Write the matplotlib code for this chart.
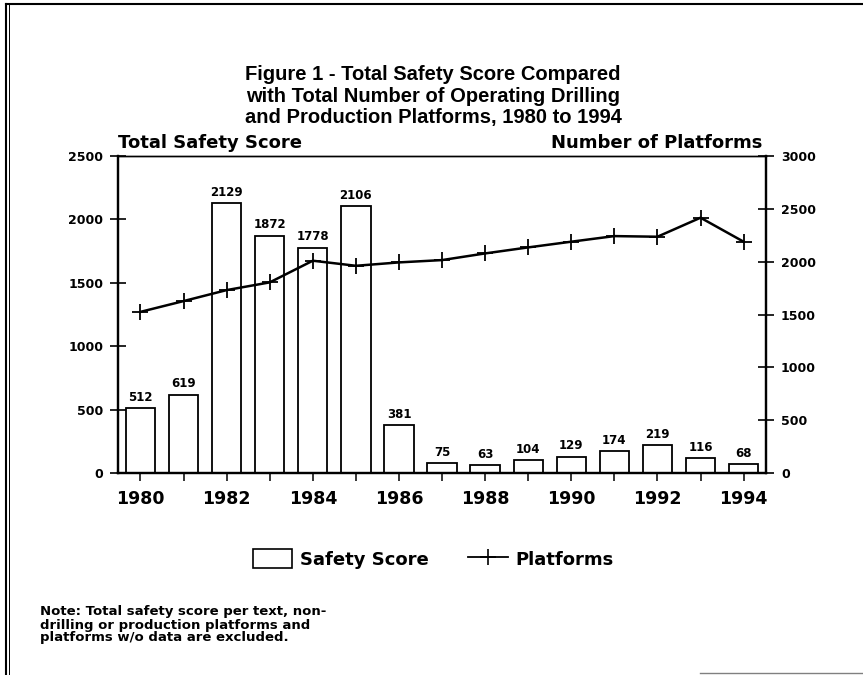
import numpy as np
import matplotlib
matplotlib.use("Agg")
from matplotlib import pyplot as plt
from matplotlib.lines import Line2D
from matplotlib.patches import Rectangle

years = list(range(1980, 1995))
safety_score = [512, 619, 2129, 1872, 1778, 2106, 381, 75, 63, 104, 129, 174, 219, 116, 68]
platforms = [1525, 1627, 1731, 1804, 2009, 1961, 1993, 2015, 2078, 2135, 2189, 2242, 2236, 2416, 2189]

title = ["Figure 1 - Total Safety Score Compared",
         "with Total Number of Operating Drilling",
         "and Production Platforms, 1980 to 1994"]
note = ["Note: Total safety score per text, non-",
        "drilling or production platforms and",
        "platforms w/o data are excluded."]

W, H = 863, 675
fig = plt.figure(figsize=(W / 100, H / 100), dpi=100)
ax = fig.add_axes([118 / W, 1 - 473 / H, (766 - 118) / W, (473 - 156) / H])
ax2 = ax.twinx()

ax.bar(years, safety_score, width=0.68, facecolor="white", edgecolor="black", linewidth=1.3, zorder=2)
for x, v in zip(years, safety_score):
    ax.annotate(str(v), (x, v), xytext=(0, 3), textcoords="offset points",
                ha="center", va="bottom", fontsize=8.5, fontweight="bold", family="DejaVu Sans")

ax2.plot(years, platforms, color="black", lw=1.8, marker="+", ms=11, mew=1.3, zorder=3)

ax.set_xlim(1979.478, 1994.52)
ax.set_ylim(0, 2500)
ax2.set_ylim(0, 3000)
ax.set_yticks(np.arange(0, 2501, 500))
ax2.set_yticks(np.arange(0, 3001, 500))
ax.set_xticks(years[::2])
ax.set_xticks(years[1::2], minor=True)

ax.tick_params(axis="y", direction="inout", length=11.5, width=1.2, pad=5,
               labelsize=9, labelfontfamily="DejaVu Sans")
ax2.tick_params(axis="y", direction="inout", length=11.5, width=1.2, pad=5,
                labelsize=9, labelfontfamily="DejaVu Sans")
ax.tick_params(axis="x", which="both", direction="inout", length=11, width=1.1, pad=7,
               labelsize=12.5, labelfontfamily="DejaVu Sans")
for lab in ax.get_yticklabels() + ax2.get_yticklabels():
    lab.set_fontweight("bold")
for lab in ax.get_xticklabels():
    lab.set_fontweight("bold")

for a in (ax, ax2):
    for s in ("left", "right", "bottom"):
        a.spines[s].set_linewidth(1.6)
    a.spines["top"].set_linewidth(1.0)
ax2.set_zorder(ax.get_zorder() + 1)
ax2.patch.set_visible(False)

for i, line in enumerate(title):
    fig.text(433 / W, 1 - (74 + 22 * i) / H, line, ha="center", va="center",
             fontsize=14.5, fontweight="bold", family="Liberation Sans")
fig.text(118 / W, 1 - 148 / H, "Total Safety Score", ha="left", va="baseline",
         fontsize=13, fontweight="bold", family="DejaVu Sans")
fig.text(762 / W, 1 - 148 / H, "Number of Platforms", ha="right", va="baseline",
         fontsize=13, fontweight="bold", family="DejaVu Sans")

handles = [Rectangle((0, 0), 1, 1, facecolor="white", edgecolor="black", lw=1.2),
           Line2D([], [], color="black", lw=1.3, marker="+", ms=11, mew=1.2)]
fig.legend(handles, ["Safety Score", "Platforms"], loc="center", ncol=2,
           bbox_to_anchor=(433 / W, 1 - 559 / H), frameon=False,
           prop={"family": "DejaVu Sans", "size": 13, "weight": "bold"},
           handlelength=2.2, handleheight=1.2, columnspacing=2.2, handletextpad=0.4)

for i, line in enumerate(note):
    fig.text(40 / W, 1 - (612 + 13 * i) / H, line, ha="left", va="center",
             fontsize=9.5, fontweight="bold", family="DejaVu Sans")

# scan frame
fig.add_artist(Line2D([6 / W, 6 / W], [0, 1 - 4 / H], color="black", lw=1.5))
fig.add_artist(Line2D([9 / W, 9 / W], [0, 1 - 4 / H], color="black", lw=0.7))
fig.add_artist(Line2D([6 / W, 1], [1 - 4 / H, 1 - 4 / H], color="black", lw=1.5))
fig.add_artist(Line2D([700 / W, 1], [1 - 673 / H, 1 - 673 / H], color="gray", lw=1.0))

fig.savefig("out.png", dpi=100)
